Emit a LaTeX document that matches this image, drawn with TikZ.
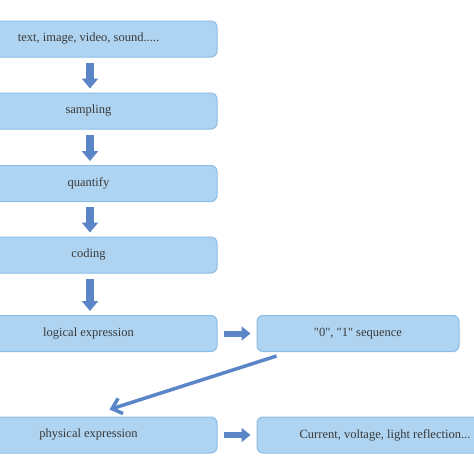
\documentclass[tikz,border=0pt]{standalone}
\usepackage{fontspec}
\setmainfont{Liberation Serif}
\newfontfamily\plainserif{Liberation Serif}
\usetikzlibrary{arrows.meta,calc}
\definecolor{boxfill}{HTML}{AED4F1}
\definecolor{boxline}{HTML}{8CBDE6}
\definecolor{arrfill}{HTML}{5A86C8}
\definecolor{txt}{HTML}{3A3A3A}
\tikzset{
  stepbox/.style={draw=boxline, line width=1pt, fill=boxfill, rounded corners=6pt,
    minimum height=36pt, inner sep=0pt, font=\fontsize{12.5}{14}\selectfont, text=txt},
  downarr/.style={arrfill, line width=7.5pt, -{Triangle[width=16pt,length=10pt]},
    shorten <=5pt, shorten >=4pt},
  rightarr/.style={arrfill, line width=6pt, -{Triangle[width=14pt,length=9pt]},
    shorten <=6pt, shorten >=6pt},
  diagarr/.style={arrfill, line width=3.5pt, -{Straight Barb[length=9pt,width=16pt,line width=3.5pt]}}
}
\begin{document}
\begin{tikzpicture}[x=1pt,y=1pt]
\useasboundingbox (0,0) rectangle (474,-474);
\clip (0,0) rectangle (474,-474);
\node[stepbox, minimum width=257pt] (b1) at (88.5,-39) {text, image, video, sound.....};
\node[stepbox, minimum width=257pt] (b2) at (88.5,-111) {sampling};
\node[stepbox, minimum width=257pt] (b3) at (88.5,-183.5) {quantify};
\node[stepbox, minimum width=257pt] (b4) at (88.5,-255) {coding};
\node[stepbox, minimum width=257pt] (b5) at (88.5,-333.5) {logical expression};
\node[stepbox, minimum width=202pt] (b6) at (358,-333.5) {\plainserif "0", "1" sequence};
\node[stepbox, minimum width=257pt] (b7) at (88.5,-435) {physical expression};
\node[stepbox, minimum width=256pt] (b8) at (385,-435) {Current, voltage, light reflection...};
\draw[downarr] ($(b1.south)+(1.5,0)$) -- ($(b2.north)+(1.5,0)$);
\draw[downarr] ($(b2.south)+(1.5,0)$) -- ($(b3.north)+(1.5,0)$);
\draw[downarr] ($(b3.south)+(1.5,0)$) -- ($(b4.north)+(1.5,0)$);
\draw[downarr] ($(b4.south)+(1.5,0)$) -- ($(b5.north)+(1.5,0)$);
\draw[rightarr] (b5.east) -- (b6.west);
\draw[rightarr] (b7.east) -- (b8.west);
\coordinate (d1) at ($(b6.south west)+(20,-4)$);
\coordinate (d2) at ($(b7.north west)+(150,7)$);
\draw[diagarr] (d1) -- (d2);
\end{tikzpicture}
\end{document}
